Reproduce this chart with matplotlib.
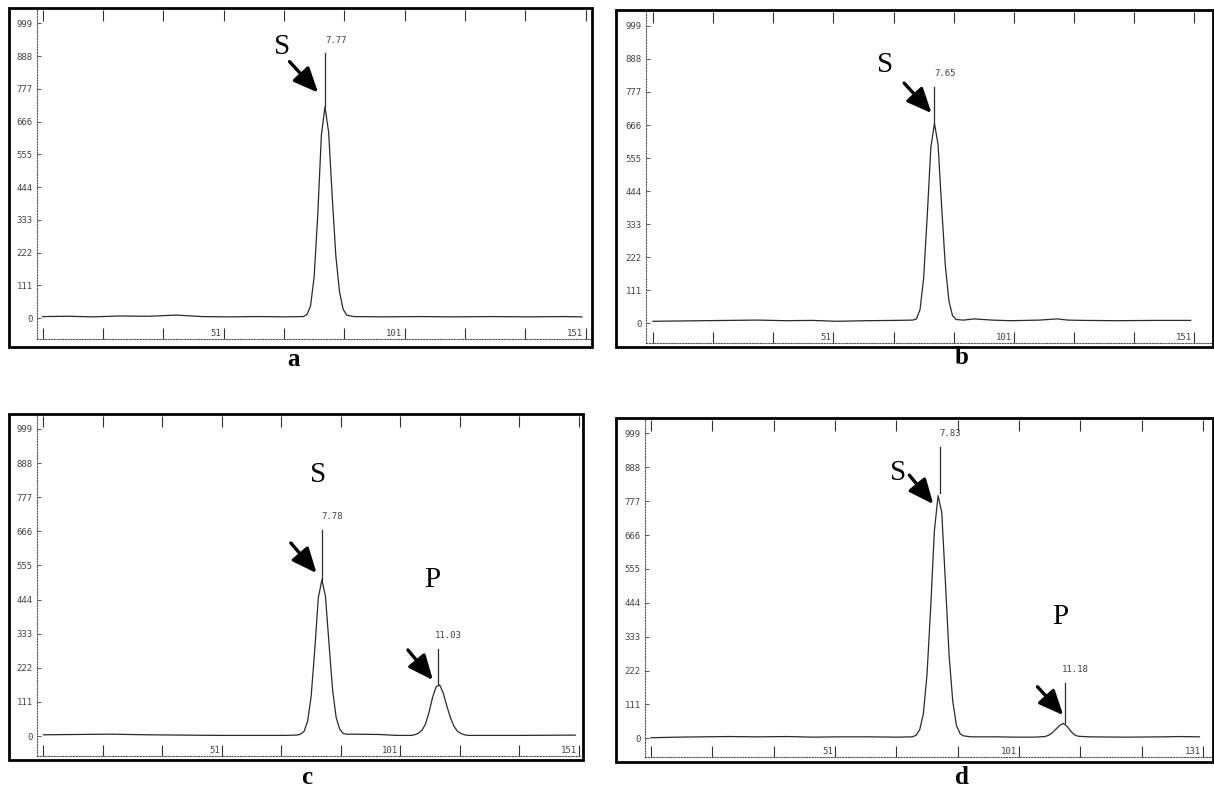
import numpy as np
import matplotlib
matplotlib.use("Agg")
import matplotlib.pyplot as plt
from matplotlib.patches import Rectangle

W, H = 1214, 791

# ---------------- data ----------------
y_ticks = [0, 111, 222, 333, 444, 555, 666, 777, 888, 999]
x_tick_pos = [1, 51, 101, 151]
x_tick_labels_abc = ["", "51", "101", "151"]
x_tick_labels_d = ["", "51", "101", "131"]

# panel a
a_x = [1, 8, 15, 22, 30, 38, 45, 52, 60, 68, 73, 74, 75, 76, 77, 78, 79, 80, 81, 82, 83, 84, 85, 87,
       95, 105, 115, 125, 135, 145, 150]
a_y = [5, 6, 4, 7, 6, 10, 5, 4, 5, 4, 5, 12, 40, 140, 350, 620, 716, 630, 410, 210, 90, 30, 10, 5,
       4, 5, 4, 5, 4, 5, 4]
a_peak_x = [79]
a_peak_top = [716]
a_mark_top = [897]
a_rt = ["7.77"]

# panel b
b_x = [1, 8, 15, 22, 30, 38, 45, 52, 60, 68, 73, 74, 75, 76, 77, 78, 79, 80, 81, 82, 83, 84, 85, 87,
       90, 95, 100, 108, 113, 116, 120, 130, 140, 150]
b_y = [6, 7, 8, 9, 10, 8, 9, 6, 8, 9, 10, 14, 45, 150, 360, 590, 672, 600, 390, 195, 75, 25, 12, 10,
       14, 10, 8, 10, 14, 10, 9, 8, 9, 9]
b_peak_x = [79]
b_peak_top = [672]
b_mark_top = [793]
b_rt = ["7.65"]

# panel c
c_x = [1, 10, 20, 30, 40, 50, 60, 68, 72, 73, 74, 75, 76, 77, 78, 79, 80, 81, 82, 83, 84, 85, 86, 88,
       95, 100, 104, 105, 106, 107, 108, 109, 110, 111, 112, 113, 114, 115, 116, 117, 118, 119, 120,
       125, 135, 150]
c_y = [4, 5, 6, 4, 3, 2, 2, 2, 3, 6, 15, 48, 130, 280, 450, 508, 455, 300, 150, 60, 22, 8, 6, 6,
       5, 2, 2, 4, 9, 18, 38, 76, 125, 160, 166, 140, 98, 60, 32, 15, 8, 4, 2,
       2, 2, 3]
c_peak_x = [79, 111.5]
c_peak_top = [508, 168]
c_mark_top = [670, 283]
c_rt = ["7.78", "11.03"]

# panel d
d_x = [1, 8, 15, 22, 30, 38, 45, 52, 60, 68, 72, 73, 74, 75, 76, 77, 78, 79, 80, 81, 82, 83, 84, 85,
       86, 88, 95, 100, 105, 108, 109, 110, 111, 112, 113, 114, 115, 116, 117, 120, 130, 140, 145, 150]
d_y = [2, 4, 5, 6, 5, 6, 4, 5, 5, 4, 5, 10, 28, 80, 210, 430, 680, 795, 740, 510, 270, 120, 42, 15,
       8, 5, 5, 4, 4, 6, 10, 18, 30, 42, 49, 40, 24, 12, 7, 5, 4, 5, 6, 5]
d_peak_x = [79.4, 113.4]
d_peak_top = [802, 49]
d_mark_top = [955, 180]
d_rt = ["7.83", "11.18"]

# ---------------- layout ----------------
def fig_rect(l, t, r, b):
    return [l / W, 1 - b / H, (r - l) / W, (b - t) / H]

panels = [
    dict(name="a", x=a_x, y=a_y, px=a_peak_x, pt=a_peak_top, pm=a_mark_top, rt=a_rt,
         frame=(8.5, 8.3, 592, 346.7), inner=(37, 10, 591, 339),
         xlim=(-0.58, 152.5), ylim=(-71, 1044), xlabels=x_tick_labels_abc,
         texts=[("S", 67.1, 920)], arrows=[((69.2, 869), (77.1, 764))],
         lab=(293, 359)),
    dict(name="b", x=b_x, y=b_y, px=b_peak_x, pt=b_peak_top, pm=b_mark_top, rt=b_rt,
         frame=(616.4, 10, 1213, 347), inner=(646, 12, 1212, 343),
         xlim=(-0.92, 155.9), ylim=(-67, 1046), xlabels=x_tick_labels_abc,
         texts=[("S", 65.4, 868)], arrows=[((70.6, 807), (78.2, 706))],
         lab=(962, 358)),
    dict(name="c", x=c_x, y=c_y, px=c_peak_x, pt=c_peak_top, pm=c_mark_top, rt=c_rt,
         frame=(8.5, 414, 582.5, 760), inner=(37, 416, 581, 756),
         xlim=(-0.82, 151.6), ylim=(-65, 1041), xlabels=x_tick_labels_abc,
         texts=[("S", 78, 849), ("P", 109.8, 508)],
         arrows=[((70.3, 628), (77.5, 530)), ((103.1, 280), (110.1, 182))],
         lab=(307, 778)),
    dict(name="d", x=d_x, y=d_y, px=d_peak_x, pt=d_peak_top, pm=d_mark_top, rt=d_rt,
         frame=(616, 418, 1213, 762), inner=(645, 420, 1212, 757),
         xlim=(-0.6, 153.4), ylim=(-61, 1042.6), xlabels=x_tick_labels_d,
         texts=[("S", 68.1, 869), ("P", 112.3, 398)],
         arrows=[((71.2, 862), (77.7, 767)), ((106, 169), (113, 76))],
         lab=(962, 777)),
]

fig = plt.figure(figsize=(W / 100, H / 100), dpi=100)
fig.patch.set_facecolor("white")

mono = "DejaVu Sans Mono"
serif = "Liberation Serif"
minor_ticks = list(np.linspace(1, 151, 10))

for p in panels:
    l, t, r, b = p["frame"]
    fig.add_artist(Rectangle((l / W, 1 - b / H), (r - l) / W, (b - t) / H,
                             transform=fig.transFigure, fill=False, lw=2.0,
                             ec="black", zorder=10))
    ax = fig.add_axes(fig_rect(*p["inner"]))
    ax.set_xlim(*p["xlim"])
    ax.set_ylim(*p["ylim"])
    ax.patch.set_alpha(0)

    for s in ["top", "right"]:
        ax.spines[s].set_visible(False)
    for s in ["left", "bottom"]:
        ax.spines[s].set_linestyle((0, (1, 1.5)))
        ax.spines[s].set_linewidth(0.8)
        ax.spines[s].set_color("#555555")

    ax.set_yticks(y_ticks)
    ax.set_yticklabels([str(v) for v in y_ticks], fontsize=6.5, family=mono, color="#444444")
    ax.tick_params(axis="y", direction="in", length=3, width=0.7, pad=3, color="#555555")

    ax.set_xticks(minor_ticks)
    ax.tick_params(axis="x", direction="in", length=8, width=0.8, top=True, bottom=True,
                   labelbottom=False, color="#333333")
    xtr = ax.get_xaxis_transform()
    for xv, lbl in zip(x_tick_pos, p["xlabels"]):
        if lbl:
            ax.text(xv - 0.6, 0.004, lbl, transform=xtr, ha="right", va="bottom",
                    fontsize=6.5, family=mono, color="#444444")

    ax.plot(p["x"], p["y"], color="#2a2a2a", lw=0.9)

    for xv, top, mk, rt in zip(p["px"], p["pt"], p["pm"], p["rt"]):
        ax.plot([xv, xv], [top, mk], color="#2a2a2a", lw=0.9)
        ax.text(xv + 3, mk + 45, rt, ha="center", va="center", fontsize=6.5,
                family=mono, color="#444444")

    for txt, tx, ty in p["texts"]:
        ax.text(tx, ty, txt, ha="center", va="center", fontsize=21, family=serif, color="black")
    for (x0, y0), (x1, y1) in p["arrows"]:
        ax.annotate("", xy=(x1, y1), xytext=(x0, y0),
                    arrowprops=dict(arrowstyle="-|>,head_length=0.75,head_width=0.33",
                                    lw=2.4, color="black", mutation_scale=20,
                                    shrinkA=0, shrinkB=0))

    lx, ly = p["lab"]
    fig.text(lx / W, 1 - ly / H, p["name"], ha="center", va="center",
             fontsize=18, family=serif, fontweight="bold")

fig.savefig("out.png", dpi=100)
